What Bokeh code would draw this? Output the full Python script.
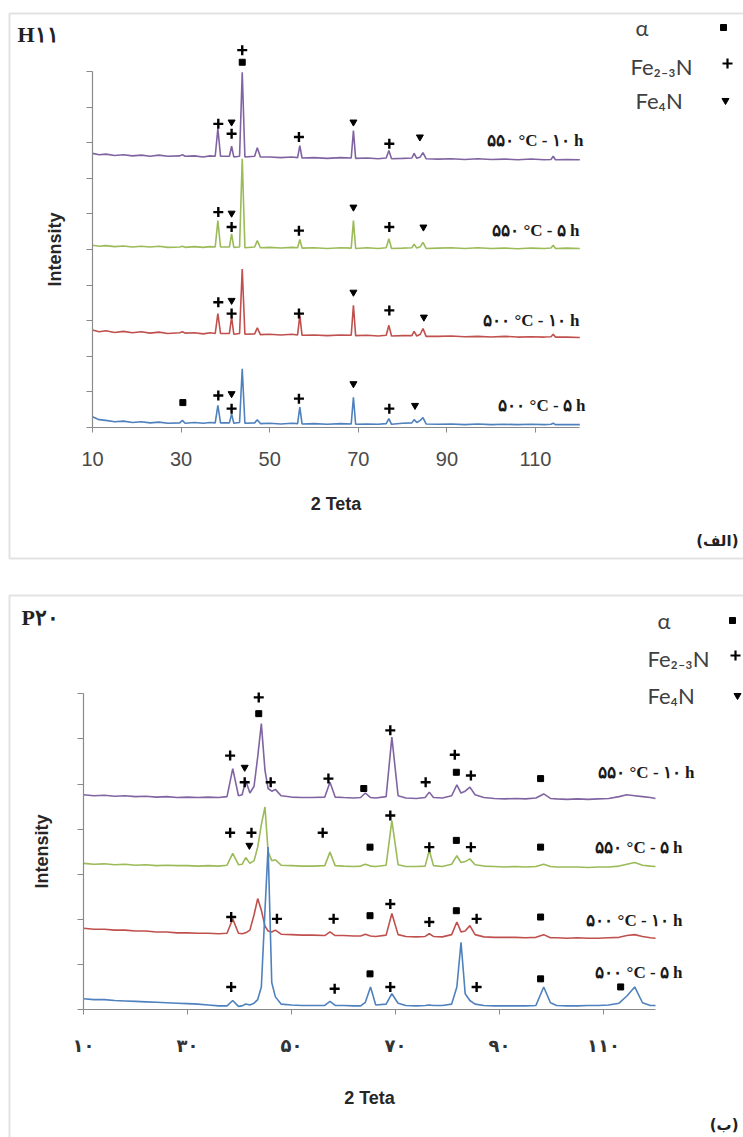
from bokeh.plotting import figure
from bokeh.models import Range1d, FixedTicker, BoxAnnotation, Label
from bokeh.layouts import column
from bokeh.embed import file_html
from bokeh.resources import INLINE
from bokeh.core.properties import value

W = 743
COLORS = ["#8064A2", "#9BBB59", "#C0504D", "#4F81BD"]

# ---------------- panel (a) : H11 ----------------
a_x = [10, 11.5, 13, 15, 17, 19, 21, 23, 25, 27,
       29.7, 30.3, 30.9, 33, 35, 36.5, 37.7, 38.3, 38.9, 40.9,
       41.4, 41.9, 43.2, 43.8, 44.4, 46.6, 47.2, 47.9, 50, 52.5,
       55, 56.3, 56.8, 57.3, 60, 63, 66, 68.4, 68.9, 69.4,
       72, 74.5, 76.3, 76.9, 77.5, 80, 82.1, 82.6, 83.2, 84.0,
       84.6, 85.3, 88, 91, 94, 97, 100, 103, 106, 109,
       112, 113.5, 114, 114.5, 117, 120]
a_purple = [7.70, 7.66, 7.68, 7.64, 7.66, 7.63, 7.65, 7.62, 7.65, 7.62,
            7.63, 7.66, 7.62, 7.63, 7.60, 7.63, 7.62, 8.40, 7.62, 7.62,
            7.90, 7.60, 7.62, 9.98, 7.60, 7.62, 7.86, 7.60, 7.60, 7.58,
            7.60, 7.58, 7.92, 7.57, 7.58, 7.56, 7.58, 7.57, 8.34, 7.56,
            7.57, 7.55, 7.57, 7.78, 7.55, 7.56, 7.57, 7.70, 7.56, 7.60,
            7.72, 7.55, 7.54, 7.55, 7.53, 7.55, 7.53, 7.54, 7.52, 7.54,
            7.52, 7.53, 7.62, 7.52, 7.53, 7.52]
a_green = [5.12, 5.09, 5.11, 5.08, 5.10, 5.07, 5.09, 5.07, 5.09, 5.06,
           5.07, 5.09, 5.06, 5.08, 5.06, 5.08, 5.07, 5.81, 5.07, 5.07,
           5.44, 5.06, 5.07, 7.55, 5.05, 5.07, 5.25, 5.05, 5.06, 5.04,
           5.06, 5.05, 5.28, 5.04, 5.05, 5.03, 5.05, 5.04, 5.81, 5.03,
           5.05, 5.03, 5.05, 5.30, 5.03, 5.04, 5.05, 5.15, 5.04, 5.08,
           5.20, 5.03, 5.04, 5.05, 5.03, 5.05, 5.03, 5.04, 5.02, 5.04,
           5.03, 5.04, 5.12, 5.03, 5.04, 5.03]
a_red = [2.74, 2.69, 2.72, 2.67, 2.70, 2.66, 2.69, 2.65, 2.68, 2.64,
         2.66, 2.69, 2.65, 2.66, 2.63, 2.66, 2.64, 3.20, 2.64, 2.64,
         3.10, 2.62, 2.64, 4.45, 2.62, 2.63, 2.80, 2.61, 2.62, 2.60,
         2.62, 2.60, 3.15, 2.59, 2.60, 2.58, 2.60, 2.59, 3.43, 2.58,
         2.59, 2.57, 2.59, 2.87, 2.57, 2.58, 2.58, 2.70, 2.57, 2.62,
         2.78, 2.56, 2.56, 2.57, 2.55, 2.56, 2.54, 2.56, 2.54, 2.55,
         2.54, 2.55, 2.62, 2.54, 2.54, 2.53]
a_blue = [0.30, 0.22, 0.20, 0.16, 0.18, 0.14, 0.16, 0.13, 0.15, 0.12,
          0.13, 0.20, 0.12, 0.14, 0.12, 0.14, 0.13, 0.62, 0.13, 0.13,
          0.38, 0.12, 0.14, 1.65, 0.12, 0.13, 0.22, 0.11, 0.12, 0.10,
          0.12, 0.11, 0.57, 0.10, 0.11, 0.09, 0.11, 0.10, 0.85, 0.09,
          0.10, 0.09, 0.11, 0.25, 0.09, 0.12, 0.13, 0.22, 0.14, 0.20,
          0.28, 0.10, 0.09, 0.10, 0.08, 0.10, 0.08, 0.09, 0.08, 0.09,
          0.08, 0.09, 0.12, 0.08, 0.08, 0.08]
a_plus_x = [38.4, 41.4, 43.8, 56.6, 77.0, 38.4, 41.4, 56.6, 77.0,
            38.4, 41.4, 56.6, 77.0, 38.4, 41.4, 56.6, 77.0]
a_plus_y = [8.53, 8.25, 10.6, 8.16, 7.97, 6.05, 5.63, 5.53, 5.63,
            3.52, 3.20, 3.20, 3.29, 0.90, 0.53, 0.81, 0.53]
a_tri_x = [41.4, 68.9, 83.9, 41.4, 68.9, 84.7, 41.4, 68.9, 84.8, 41.4, 68.9, 82.8]
a_tri_y = [8.58, 8.58, 8.16, 6.02, 6.19, 5.63, 3.57, 3.80, 3.10, 0.95, 1.23, 0.62]
a_sq_x = [43.8, 30.4]
a_sq_y = [10.26, 0.70]
a_labels = ["۵۵۰ °C - ۱۰ h", "۵۵۰ °C - ۵ h", "۵۰۰ °C - ۱۰ h", "۵۰۰ °C - ۵ h"]
a_label_x = [120.8, 119.9, 119.9, 121.3]
a_label_y = [8.06, 5.53, 3.01, 0.62]
a_ticks = [10, 30, 50, 70, 90, 110]

# ---------------- panel (b) : P20 ----------------
b_x = [10, 12, 14, 16, 18, 20, 22, 24, 26, 28, 30, 32, 34, 36,
       37.6, 38.7, 39.8, 40.5, 41.2, 42.0,
       42.8, 43.5, 44.2, 44.9, 45.5, 46.2, 46.9, 48.0, 50, 52,
       54, 56.4, 57.4, 58.4, 60, 62, 63.3, 64.2, 65.2, 66.2,
       68.2, 69.3, 70.5, 72, 74, 75.7, 76.5, 77.3, 79, 80.8,
       81.8, 82.6, 83.4, 84.3, 85.3, 87, 89, 91, 93, 95,
       97.0, 98.5, 99.8, 101, 103, 105, 107, 109, 111, 113,
       114.5, 116, 117.5, 119, 120]
b_purple = [4.76, 4.74, 4.75, 4.73, 4.74, 4.72, 4.73, 4.71, 4.72, 4.70, 4.71, 4.70, 4.71, 4.70,
            4.72, 5.34, 4.74, 4.76, 5.07, 4.80,
            4.95, 5.60, 6.34, 5.30, 4.90, 4.84, 4.88, 4.74, 4.71, 4.70,
            4.70, 4.71, 5.04, 4.71, 4.70, 4.69, 4.70, 4.80, 4.70, 4.69,
            4.72, 6.04, 4.74, 4.69, 4.68, 4.70, 4.82, 4.70, 4.69, 4.74,
            4.98, 4.80, 4.84, 4.93, 4.76, 4.70, 4.68, 4.67, 4.68, 4.67,
            4.69, 4.78, 4.68, 4.67, 4.66, 4.67, 4.66, 4.67, 4.68, 4.72,
            4.76, 4.74, 4.72, 4.70, 4.68]
b_green = [3.24, 3.22, 3.23, 3.21, 3.22, 3.20, 3.21, 3.19, 3.20, 3.19, 3.19, 3.18, 3.19, 3.18,
           3.20, 3.46, 3.21, 3.22, 3.37, 3.24,
           3.30, 3.60, 4.10, 4.49, 3.50, 3.30, 3.32, 3.20, 3.19, 3.18,
           3.18, 3.19, 3.49, 3.19, 3.18, 3.17, 3.18, 3.22, 3.18, 3.17,
           3.20, 4.19, 3.21, 3.17, 3.17, 3.18, 3.53, 3.19, 3.17, 3.22,
           3.41, 3.26, 3.28, 3.34, 3.21, 3.18, 3.17, 3.16, 3.17, 3.16,
           3.17, 3.22, 3.17, 3.16, 3.16, 3.16, 3.15, 3.16, 3.16, 3.18,
           3.22, 3.26, 3.20, 3.18, 3.17]
b_red = [1.80, 1.78, 1.78, 1.76, 1.76, 1.74, 1.74, 1.72, 1.72, 1.70, 1.70, 1.69, 1.69, 1.68,
         1.69, 2.01, 1.69, 1.68, 1.70, 1.76,
         2.10, 2.46, 2.20, 1.85, 1.74, 1.72, 1.76, 1.67, 1.66, 1.65,
         1.65, 1.64, 1.72, 1.64, 1.64, 1.63, 1.63, 1.67, 1.63, 1.62,
         1.65, 2.13, 1.66, 1.62, 1.61, 1.62, 1.68, 1.62, 1.61, 1.66,
         1.94, 1.72, 1.74, 1.86, 1.66, 1.61, 1.60, 1.60, 1.60, 1.59,
         1.60, 1.66, 1.59, 1.59, 1.58, 1.59, 1.58, 1.58, 1.59, 1.60,
         1.64, 1.66, 1.62, 1.59, 1.58]
b_blue = [0.24, 0.22, 0.22, 0.20, 0.19, 0.18, 0.17, 0.16, 0.15, 0.14, 0.13, 0.12, 0.10, 0.08,
          0.08, 0.20, 0.07, 0.08, 0.12, 0.10,
          0.14, 0.22, 0.50, 2.20, 3.60, 0.60, 0.28, 0.12, 0.10, 0.09,
          0.09, 0.09, 0.18, 0.09, 0.09, 0.08, 0.08, 0.16, 0.50, 0.10,
          0.12, 0.35, 0.14, 0.09, 0.08, 0.09, 0.10, 0.09, 0.09, 0.12,
          0.50, 1.49, 0.35, 0.20, 0.12, 0.09, 0.08, 0.08, 0.08, 0.08,
          0.09, 0.50, 0.15, 0.09, 0.08, 0.08, 0.09, 0.09, 0.10, 0.14,
          0.30, 0.50, 0.15, 0.09, 0.09]
b_plus_x = [38.2, 41.0, 43.7, 46.0, 57.1, 69.0, 75.8, 81.4, 84.5,
            38.2, 42.3, 56.0, 69.0, 76.5, 84.5,
            38.4, 47.2, 58.1, 69.0, 76.5, 85.6,
            38.4, 58.3, 69.0, 85.6]
b_plus_y = [5.63, 5.04, 6.92, 5.04, 5.12, 6.19, 5.04, 5.65, 5.19,
            3.92, 3.92, 3.92, 4.30, 3.60, 3.60,
            2.05, 2.01, 2.01, 2.34, 1.94, 2.01,
            0.50, 0.46, 0.50, 0.50]
b_tri_x = [41.0, 41.9]
b_tri_y = [5.37, 3.64]
b_sq_x = [43.7, 63.9, 81.7, 97.9, 65.1, 81.7, 97.9, 65.1, 81.7, 97.9, 65.1, 97.9, 113.3]
b_sq_y = [6.56, 4.90, 5.26, 5.12, 3.60, 3.75, 3.60, 2.08, 2.19, 2.05, 0.79, 0.68, 0.50]
b_labels = ["۵۵۰ °C - ۱۰ h", "۵۵۰ °C - ۵ h", "۵۰۰ °C - ۱۰ h", "۵۰۰ °C - ۵ h"]
b_label_x = [127.5, 125.2, 125.2, 125.2]
b_label_y = [5.26, 3.60, 1.97, 0.83]
b_ticks = [10, 30, 50, 70, 90, 110]
b_tick_labels = ["۱۰", "۳۰", "۵۰", "۷۰", "۹۰", "۱۱۰"]

legend_names = ["α", "Fe₂₋₃N", "Fe₄N"]


def make_panel(h, ax_px, x_ppu, ay_px, y_ppu, ymax, ticks, tick_overrides,
               tick_font, tick_size, tick_style, tick_color, tick_standoff,
               title_standoff, ylabel_standoff, series_x, series, plus, tri,
               sq, labels, lx, ly, name, name_pos, legend_pos, legend_marks,
               corner, corner_pos, border):
    def dx(px):
        return 10 + (px - ax_px) / x_ppu

    def dy(py):
        return (ay_px - py) / y_ppu

    p = figure(width=W, height=h, x_range=Range1d(dx(0), dx(W)),
               y_range=Range1d(dy(h), dy(0)), min_border=0,
               toolbar_location=None, output_backend="svg",
               title_location=None)
    p.background_fill_color = "white"
    p.border_fill_color = "white"
    p.outline_line_color = None
    p.grid.visible = False

    p.xaxis.fixed_location = 0
    p.yaxis.fixed_location = 10
    p.xaxis.bounds = (10, 120)
    p.yaxis.bounds = (0, ymax)
    p.xaxis.ticker = FixedTicker(ticks=ticks, minor_ticks=[])
    p.yaxis.ticker = FixedTicker(ticks=list(range(ymax + 1)), minor_ticks=[])
    if tick_overrides:
        p.xaxis.major_label_overrides = tick_overrides
    for ax in (p.xaxis, p.yaxis):
        ax.axis_line_color = "#8a8a8a"
        ax.axis_line_width = 1.2
        ax.major_tick_line_color = "#8a8a8a"
        ax.major_tick_in = 0
        ax.minor_tick_line_color = None
        ax.axis_label_text_font = "Liberation Sans"
        ax.axis_label_text_font_style = "bold"
        ax.axis_label_text_font_size = "18px"
        ax.axis_label_text_color = "#262626"
    p.xaxis.major_tick_out = 5
    p.yaxis.major_tick_out = 6
    p.xaxis.major_label_text_font = tick_font
    p.xaxis.major_label_text_font_size = tick_size
    p.xaxis.major_label_text_font_style = tick_style
    p.xaxis.major_label_text_color = tick_color
    p.xaxis.major_label_standoff = tick_standoff
    p.yaxis.major_label_text_font_size = "0px"
    p.yaxis.major_label_text_color = None
    p.xaxis.axis_label = "2 Teta"
    p.xaxis.axis_label_standoff = title_standoff
    p.yaxis.axis_label = "Intensity"
    p.yaxis.axis_label_standoff = ylabel_standoff

    for ys, c in zip(series, COLORS):
        p.line(series_x, ys, line_color=c, line_width=1.6)

    p.scatter(plus[0], plus[1], marker="cross", size=10, line_width=2.4,
              color="black")
    p.scatter(tri[0], tri[1], marker="inverted_triangle", size=7,
              color="black")
    p.scatter(sq[0], sq[1], marker="square", size=6, color="black")

    p.text(x=lx, y=ly, text=labels, text_align="right", text_baseline="middle",
           text_font=value("Liberation Serif"), text_font_style="bold",
           text_font_size="17px", text_color="#1a1a1a")

    # frame of the panel
    p.add_layout(BoxAnnotation(left=dx(border[0]), right=dx(W + 20),
                               top=dy(border[1]), bottom=dy(border[2]),
                               fill_alpha=0, line_color="#a0a0a0",
                               line_width=2))
    p.add_layout(Label(x=dx(name_pos[0]), y=dy(name_pos[1]), text=name,
                       text_font="Liberation Serif", text_font_style="bold",
                       text_font_size="22px", text_color="#222222",
                       text_baseline="middle"))
    # legend
    for (tx, ty), t in zip(legend_pos, legend_names):
        p.add_layout(Label(x=dx(tx), y=dy(ty), text=t, text_font="Lato",
                           text_font_size="22px", text_color="#404040",
                           text_baseline="middle"))
    mk = ["square", "cross", "inverted_triangle"]
    sz = [6, 10, 7]
    lw = [1, 2.2, 1]
    for (mx, my), m, s, w in zip(legend_marks, mk, sz, lw):
        p.scatter([dx(mx)], [dy(my)], marker=m, size=s, line_width=w,
                  color="black")
    p.add_layout(Label(x=dx(corner_pos[0]), y=dy(corner_pos[1]), text=corner,
                       text_font="DejaVu Sans", text_font_style="bold",
                       text_font_size="15px", text_color="#222222",
                       text_align="right", text_baseline="middle"))
    return p


pa = make_panel(
    h=578, ax_px=92, x_ppu=4.43, ay_px=427, y_ppu=35.6, ymax=10,
    ticks=a_ticks, tick_overrides=None, tick_font="Liberation Sans",
    tick_size="20px", tick_style="normal", tick_color="#4a4a4a",
    tick_standoff=19, title_standoff=25, ylabel_standoff=22,
    series_x=a_x, series=[a_purple, a_green, a_red, a_blue],
    plus=(a_plus_x, a_plus_y), tri=(a_tri_x, a_tri_y), sq=(a_sq_x, a_sq_y),
    labels=a_labels, lx=a_label_x, ly=a_label_y,
    name="H۱۱", name_pos=(17, 34),
    legend_pos=[(635, 27), (630, 66), (635, 100)],
    legend_marks=[(723, 27), (727, 63), (725, 100)],
    corner="(الف)", corner_pos=(738, 540), border=(9, 13, 558))

pb = make_panel(
    h=559, ax_px=83, x_ppu=5.2, ay_px=431, y_ppu=45.1, ymax=7,
    ticks=b_ticks, tick_overrides=dict(zip(b_ticks, b_tick_labels)),
    tick_font="DejaVu Sans", tick_size="18px", tick_style="bold",
    tick_color="#333333",
    tick_standoff=20, title_standoff=29, ylabel_standoff=26,
    series_x=b_x, series=[b_purple, b_green, b_red, b_blue],
    plus=(b_plus_x, b_plus_y), tri=(b_tri_x, b_tri_y), sq=(b_sq_x, b_sq_y),
    labels=b_labels, lx=b_label_x, ly=b_label_y,
    name="P۲۰", name_pos=(21, 39),
    legend_pos=[(657, 42), (647, 80), (647, 117)],
    legend_marks=[(732, 42), (735, 77), (737, 117)],
    corner="(ب)", corner_pos=(738, 546), border=(9, 17, 600))

layout = column(pa, pb)
open("out.html", "w").write(file_html(layout, INLINE))
